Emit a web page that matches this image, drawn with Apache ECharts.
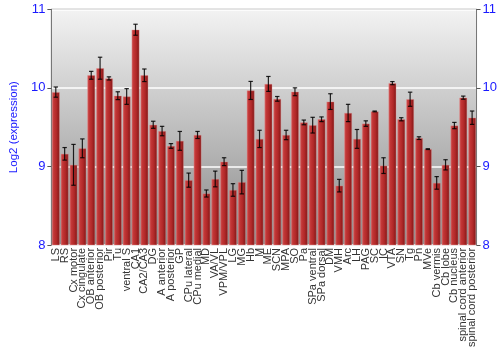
<!DOCTYPE html>
<html><head><meta charset="utf-8">
<script src="https://cdn.jsdelivr.net/npm/echarts@6/dist/echarts.min.js"></script>
<style>html,body{margin:0;padding:0;background:#fff}#c{width:500px;height:350px}</style>
</head><body><div id="c"></div>
<script>
const categories = ["LS","RS","Cx motor","Cx cingulate","OB anterior","OB posterior","Pir","Tu","ventral S","CA1","CA2/CA3","DG","A anterior","A posterior","GP","CPu lateral","CPu medial","MD","VA/VL","VPM/VPL","LG","MG","Hb","M","ME","SCN","MPA","SO","Pa","SPa ventral","SPa dorsal","DM","VMH","Arc","LH","PAG","SC","IC","VTA","SN","Tg","Pn","MVe","Cb vermis","Cb lobe","Cb nucleus","spinal cord anterior","spinal cord posterior"];
const values = [9.946,9.16,9.02,9.23,10.16,10.25,10.12,9.90,9.89,10.74,10.16,9.53,9.45,9.26,9.325,8.825,9.40,8.655,8.84,9.06,8.70,8.80,9.967,9.35,10.05,9.86,9.40,9.95,9.56,9.525,9.60,9.825,8.755,9.68,9.35,9.545,9.70,9.01,10.06,9.60,9.855,9.36,9.22,8.79,9.02,9.52,9.875,9.62];
const errors = [0.065,0.08,0.26,0.12,0.05,0.14,0.02,0.05,0.1,0.07,0.08,0.045,0.06,0.03,0.12,0.09,0.045,0.045,0.1,0.05,0.08,0.15,0.115,0.11,0.095,0.03,0.06,0.05,0.03,0.1,0.03,0.1,0.08,0.11,0.12,0.035,0.005,0.1,0.02,0.02,0.09,0.017,0.005,0.08,0.065,0.04,0.02,0.085];
const yTicks = [8,9,10,11];

const chart = echarts.init(document.getElementById('c'), null, {renderer:'canvas'});
const blue = '#1a1aff';
const errData = values.map((v,i)=>[i, v-errors[i], v+errors[i]]);
chart.setOption({
  animation:false,
  grid:{left:34,right:20.5,top:9.3,bottom:99.3,show:true,borderColor:'#777',borderWidth:1,
    backgroundColor:new echarts.graphic.LinearGradient(0,0,0,1,[{offset:0,color:'#f3f3f3'},{offset:1,color:'#8a8a8a'}])},
  xAxis:{type:'category',data:categories,
    axisLine:{show:false},axisTick:{show:false},
    axisLabel:{interval:0,rotate:90,fontFamily:'Liberation Sans, Arial',fontSize:11,color:'#333',margin:3}},
  yAxis:[
    {type:'value',min:8,max:11,interval:1,name:'Log2 (expression)',nameLocation:'middle',nameGap:25,
     nameTextStyle:{color:blue,fontSize:11.5,fontFamily:'Liberation Sans, Arial'},
     axisLine:{show:true,lineStyle:{color:'#777'}},axisTick:{show:true,length:4,lineStyle:{color:'#555'}},
     axisLabel:{color:blue,fontSize:13,fontFamily:'Liberation Sans, Arial',margin:6,formatter:v=>yTicks.includes(v)?String(v):''},
     splitLine:{show:true,lineStyle:{color:'rgba(255,255,255,0.75)',width:2}}},
    {type:'value',min:8,max:11,interval:1,position:'right',
     axisLine:{show:true,lineStyle:{color:'#777'}},axisTick:{show:true,length:4,lineStyle:{color:'#555'}},
     axisLabel:{color:blue,fontSize:13,fontFamily:'Liberation Sans, Arial',margin:6,formatter:v=>yTicks.includes(v)?String(v):''},
     splitLine:{show:false}}
  ],
  series:[
    {type:'bar',data:values,barWidth:'88%',
     itemStyle:{color:new echarts.graphic.LinearGradient(0,0,1,0,[
       {offset:0,color:'#d05a5a'},{offset:0.25,color:'#c23636'},{offset:0.6,color:'#b02828'},{offset:1,color:'#7e1616'}]),
       borderColor:'rgba(230,140,140,0.6)',borderWidth:0.6}},
    {type:'custom',data:errData,z:10,
     renderItem:function(params,api){
       const x = api.coord([api.value(0),api.value(1)])[0];
       const lo = api.coord([api.value(0),api.value(1)])[1];
       const hi = api.coord([api.value(0),api.value(2)])[1];
       const w = 2.2;
       const st = {stroke:'rgba(0,0,0,0.85)',lineWidth:1.2};
       return {type:'group',children:[
         {type:'line',shape:{x1:x,y1:hi,x2:x,y2:lo},style:st},
         {type:'line',shape:{x1:x-w,y1:hi,x2:x+w,y2:hi},style:st},
         {type:'line',shape:{x1:x-w,y1:lo,x2:x+w,y2:lo},style:st}
       ]};
     }}
  ]
});
</script></body></html>
